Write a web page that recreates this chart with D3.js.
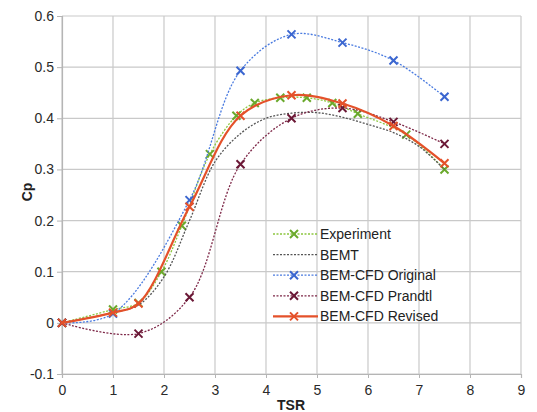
<!DOCTYPE html>
<html>
<head>
<meta charset="utf-8">
<script src="https://cdn.jsdelivr.net/npm/d3@7"></script>
<style>
  body { margin: 0; background: #fff; }
  text { font-family: "Liberation Sans", Arial, sans-serif; }
</style>
</head>
<body>
<div id="chart"></div>
<script>
// values
var xTicks = [0, 1, 2, 3, 4, 5, 6, 7, 8, 9]
var yTicks = [-0.1, 0, 0.1, 0.2, 0.3, 0.4, 0.5, 0.6]

var experimentTsr = [0, 1, 1.5, 1.95, 2.35, 2.9, 3.42, 3.78, 4.28, 4.8, 5.3, 5.8, 6.75, 7.5]
var experimentCp = [0, 0.026, 0.039, 0.1, 0.19, 0.33, 0.405, 0.43, 0.44, 0.44, 0.43, 0.409, 0.368, 0.3]

var bemtTsr = [0, 1, 1.5, 2, 2.5, 3, 3.5, 4, 4.5, 5, 5.5, 6, 6.5, 7, 7.5]
var bemtCp = [0, 0.02, 0.035, 0.09, 0.2, 0.315, 0.37, 0.4, 0.41, 0.411, 0.402, 0.388, 0.372, 0.345, 0.3]

var originalTsr = [0, 1, 2.5, 3.5, 4.5, 5.5, 6.5, 7.5]
var originalCp = [0, 0.018, 0.24, 0.493, 0.564, 0.548, 0.513, 0.442]

var prandtlTsr = [0, 1.5, 2.5, 3.5, 4.5, 5.5, 6.5, 7.5]
var prandtlCp = [0, -0.021, 0.05, 0.31, 0.4, 0.42, 0.393, 0.35]

var revisedTsr = [0, 1, 1.5, 2.5, 3.5, 4.5, 5.5, 6.5, 7.5]
var revisedCp = [0, 0.02, 0.038, 0.227, 0.405, 0.445, 0.429, 0.385, 0.312]

var seriesNames = ['Experiment', 'BEMT', 'BEM-CFD Original', 'BEM-CFD Prandtl', 'BEM-CFD Revised']

function zip(xs, ys) {
  return xs.map(function(x, i) { return { x: x, y: ys[i] } })
}

var series = [
  { name: seriesNames[0], values: zip(experimentTsr, experimentCp), color: '#6aa92c', lineColor: '#8cc63f', dash: '2,1.5', width: 1.3, markers: true },
  { name: seriesNames[1], values: zip(bemtTsr, bemtCp), color: '#555', lineColor: '#555', dash: '2,1.5', width: 1.3, markers: false },
  { name: seriesNames[2], values: zip(originalTsr, originalCp), color: '#3b66d0', lineColor: '#4a7be0', dash: '2,1.5', width: 1.3, markers: true },
  { name: seriesNames[3], values: zip(prandtlTsr, prandtlCp), color: '#6b1836', lineColor: '#7d2747', dash: '2,1.5', width: 1.3, markers: true },
  { name: seriesNames[4], values: zip(revisedTsr, revisedCp), color: '#e4512a', lineColor: '#e4512a', dash: null, width: 2.2, markers: true }
]

var margin = { top: 16, left: 62, right: 16, bottom: 38 }

var svg = d3.select('#chart')
  .append('svg')
  .attr('width', 537)
  .attr('height', 412)

var g = svg.append('g')
  .attr('transform', 'translate(' + margin.left + ',' + margin.top + ')')

var xPositionScale = d3.scaleLinear().domain([0, 9]).range([0, 459])
var yPositionScale = d3.scaleLinear().domain([-0.1, 0.6]).range([358, 0])

// grid
g.selectAll('.vgrid')
  .data(xTicks)
  .enter()
  .append('line')
  .attr('class', 'vgrid')
  .attr('x1', d => xPositionScale(d))
  .attr('x2', d => xPositionScale(d))
  .attr('y1', 0)
  .attr('y2', 358)
  .attr('stroke', '#c9c9c9')
  .attr('stroke-width', 1.2)

g.selectAll('.hgrid')
  .data(yTicks)
  .enter()
  .append('line')
  .attr('class', 'hgrid')
  .attr('x1', 0)
  .attr('x2', 459)
  .attr('y1', d => yPositionScale(d))
  .attr('y2', d => yPositionScale(d))
  .attr('stroke', '#c9c9c9')
  .attr('stroke-width', 1.2)

// axes
var xAxis = d3.axisBottom(xPositionScale).tickValues(xTicks).tickSize(4).tickPadding(7)
g.append('g')
  .attr('class', 'axis x-axis')
  .attr('transform', 'translate(0,358)')
  .call(xAxis)

var yAxis = d3.axisLeft(yPositionScale).tickValues(yTicks).tickSize(5).tickPadding(3)
  .tickFormat(d => d === 0 ? '0' : d3.format('.1f')(d).replace('\u2212', '-'))
g.append('g')
  .attr('class', 'axis y-axis')
  .call(yAxis)

g.selectAll('.axis .domain').attr('stroke', '#b5b5b5').attr('stroke-width', 1.2)
g.selectAll('.axis line').attr('stroke', '#b5b5b5')
g.selectAll('.axis text')
  .attr('font-size', '14px')
  .attr('fill', '#2a2a2a')
  .style('font-family', '"Liberation Sans", Arial, sans-serif')

// axis titles
svg.append('text')
  .text('TSR')
  .attr('x', 291)
  .attr('y', 410)
  .attr('text-anchor', 'middle')
  .attr('font-size', '14px')
  .attr('font-weight', 'bold')
  .attr('fill', '#222')

svg.append('text')
  .attr('transform', 'translate(32,192) rotate(-90)')
  .attr('text-anchor', 'middle')
  .attr('font-size', '14px')
  .attr('font-weight', 'bold')
  .attr('fill', '#222')
  .text('Cp')

// lines
var line = d3.line()
  .x(d => xPositionScale(d.x))
  .y(d => yPositionScale(d.y))
  .curve(d3.curveCatmullRom.alpha(0.5))

function cross(sel, size) {
  sel.append('path')
    .attr('d', 'M' + (-size) + ',' + (-size) + 'L' + size + ',' + size + 'M' + (-size) + ',' + size + 'L' + size + ',' + (-size))
}

series.forEach(function(s) {
  var sg = g.append('g').attr('class', 'series')
  sg.append('path')
    .datum(s.values)
    .attr('d', line)
    .attr('fill', 'none')
    .attr('stroke', s.lineColor)
    .attr('stroke-width', s.width)
    .attr('stroke-dasharray', s.dash)

  if (s.markers) {
    sg.selectAll('.marker')
      .data(s.values)
      .enter()
      .append('g')
      .attr('class', 'marker')
      .attr('transform', d => 'translate(' + xPositionScale(d.x) + ',' + yPositionScale(d.y) + ')')
      .attr('stroke', s.color)
      .attr('stroke-width', 2)
      .call(cross, 4)
  }
})

// legend
var legend = svg.append('g')
  .attr('transform', 'translate(273,234)')

var rows = legend.selectAll('.row')
  .data(series)
  .enter()
  .append('g')
  .attr('class', 'row')
  .attr('transform', (d, i) => 'translate(0,' + (i * 20.6) + ')')

rows.append('line')
  .attr('x1', 0)
  .attr('x2', 45)
  .attr('stroke', d => d.lineColor)
  .attr('stroke-width', d => d.width)
  .attr('stroke-dasharray', d => d.dash)

rows.filter(d => d.markers)
  .append('g')
  .attr('transform', 'translate(21,0)')
  .attr('stroke', d => d.color)
  .attr('stroke-width', 2)
  .call(cross, 4)

rows.append('text')
  .text(d => d.name)
  .attr('x', 47)
  .attr('y', 5)
  .attr('font-size', '14px')
  .attr('fill', '#222')
</script>
</body>
</html>
